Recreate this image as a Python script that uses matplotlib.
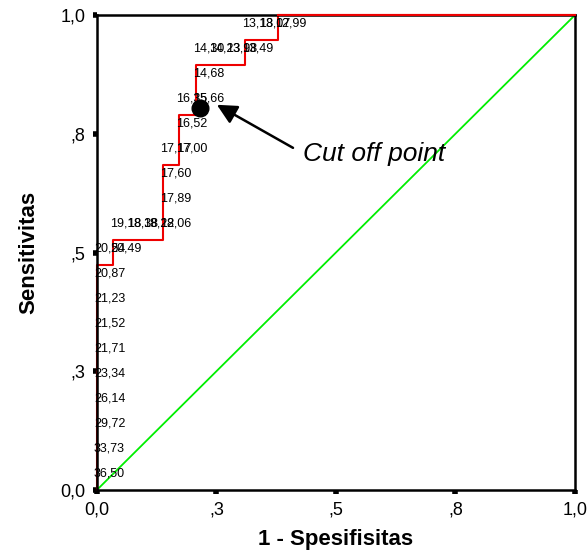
import numpy as np
import matplotlib
matplotlib.use('Agg')
from matplotlib import pyplot as plt

plt.rcParams['font.family'] = ['Liberation Sans', 'DejaVu Sans']

# ROC staircase, counted in false positives (of 29) and true positives (of 19)
n_neg = 29
n_pos = 19
fp = [0, 0, 0, 0, 0, 0, 0, 0, 0, 0, 1, 1, 2, 3, 4, 4, 4, 4, 5, 5, 5, 6, 6, 6, 7, 8, 9, 9, 10, 11, 11, 29]
tp = [0, 1, 2, 3, 4, 5, 6, 7, 8, 9, 9, 10, 10, 10, 10, 11, 12, 13, 13, 14, 15, 15, 16, 17, 17, 17, 17, 18, 18, 18, 19, 19]
cutoffs = ['36,50', '33,73', '29,72', '26,14', '23,34', '21,71', '21,52', '21,23', '20,87',
           '20,54', '20,49', '19,18', '18,38', '18,22', '18,06', '17,89', '17,60', '17,17',
           '17,00', '16,52', '16,35', '15,66', '14,68', '14,30', '14,23', '13,98', '13,49',
           '13,18', '13,07', '12,99']

cut_point = (0.215, 0.804)
ticks = [0, 0.25, 0.5, 0.75, 1.0]
tick_labels = ['0,0', ',3', ',5', ',8', '1,0']

x = np.array(fp) / n_neg
y = np.array(tp) / n_pos

fig = plt.figure(figsize=(5.87, 5.54), dpi=100)
ax = fig.add_axes([0.165, 0.1155, 0.8146, 0.8574])

ax.plot([0, 1], [0, 1], color='#00ee00', lw=1.3, zorder=2)
# staircase sits under the frame, the top run lies over it
ax.plot(x, y, color='#ee0000', lw=1.5, zorder=2.2, clip_on=False)
ax.plot(x[-2:], y[-2:], color='#ee0000', lw=1.5, zorder=4, clip_on=False)

for xi, yi, s in zip(x, y, cutoffs):
    ax.annotate(s, (xi, yi), xytext=(-3, 17), textcoords='offset pixels',
                ha='left', va='center', fontsize=9, zorder=4)

ax.plot(*cut_point, 'o', color='black', ms=12, zorder=5)
ax.annotate('Cut off point', xy=(0.251, 0.811), xytext=(0.431, 0.693),
            fontsize=19, style='italic', ha='left', va='baseline',
            arrowprops=dict(arrowstyle='-|>', color='black', lw=1.8,
                            mutation_scale=30, shrinkA=0, shrinkB=0,
                            relpos=(-0.07, 0.75)))

ax.set_xlim(0, 1)
ax.set_ylim(0, 1)
ax.set_xticks(ticks)
ax.set_xticklabels(tick_labels)
ax.set_yticks(ticks)
ax.set_yticklabels(tick_labels)
ax.tick_params(direction='out', length=3, width=4, labelsize=13, pad=5)
for sp in ax.spines.values():
    sp.set_linewidth(1.8)
    sp.set_zorder(3)

ax.set_xlabel('1 - Spesifisitas', fontsize=16, fontweight='bold', labelpad=8)
ax.set_ylabel('Sensitivitas', fontsize=16, fontweight='bold', labelpad=15)

fig.savefig('out.png', dpi=100)
